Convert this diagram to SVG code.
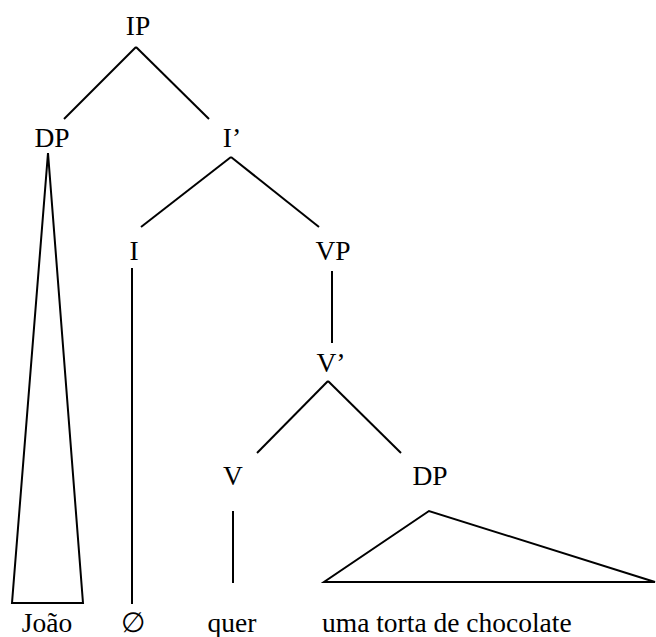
<svg xmlns="http://www.w3.org/2000/svg" width="656" height="637" viewBox="0 0 656 637">
<style>
.e{stroke:#000;stroke-width:2;fill:none;stroke-linejoin:miter}
</style>
<rect width="656" height="637" fill="#fff"/>
<g id="connectors">
<line class="e" x1="136" y1="47" x2="64" y2="119"/>
<line class="e" x1="136" y1="47" x2="209" y2="119"/>
<polygon class="e" points="48,153 12,603 83,603"/>
<line class="e" x1="231" y1="157" x2="141" y2="227"/>
<line class="e" x1="231" y1="157" x2="319" y2="227"/>
<line class="e" x1="132" y1="268" x2="132" y2="604"/>
<line class="e" x1="332" y1="271" x2="332" y2="343"/>
<line class="e" x1="328" y1="381" x2="257" y2="453"/>
<line class="e" x1="328" y1="381" x2="401" y2="453"/>
<line class="e" x1="233" y1="511" x2="233" y2="583"/>
<polygon class="e" points="429,511 324,582 655,582"/>
</g>
<g font-family="'Liberation Serif', 'Times New Roman', 'DejaVu Serif', serif" font-size="27.5" fill="#000" text-anchor="middle">
<g id="IP"><text x="138" y="35">IP</text></g>
<g id="DP1"><text x="52" y="147">DP</text></g>
<g id="Ibar"><text x="232" y="147">I’</text></g>
<g id="I"><text x="134" y="260">I</text></g>
<g id="VP"><text x="333" y="260">VP</text></g>
<g id="Vbar"><text x="331" y="372">V’</text></g>
<g id="V"><text x="233" y="485">V</text></g>
<g id="DP2"><text x="430" y="485">DP</text></g>
<g id="leaf-joao"><text x="47" y="632">João</text></g>
<g id="leaf-null"><text x="133" y="632">∅</text></g>
<g id="leaf-quer"><text x="232" y="632">quer</text></g>
<g id="leaf-dp"><text x="322" y="632" text-anchor="start">uma torta de chocolate</text></g>
</g>
</svg>
